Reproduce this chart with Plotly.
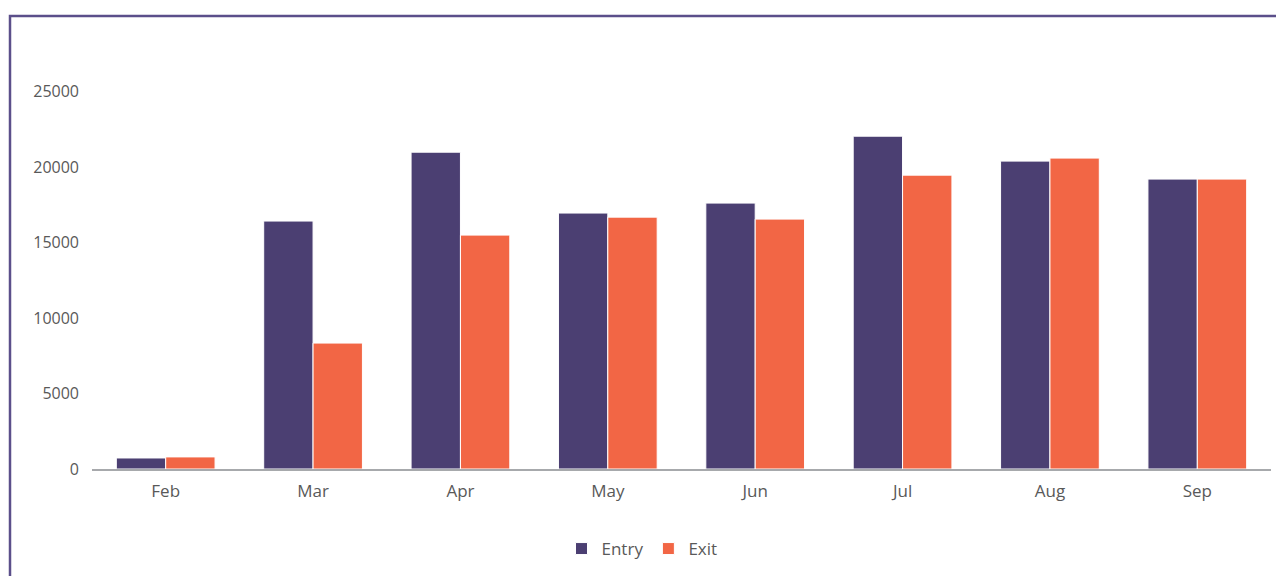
import plotly.graph_objects as go

months = ["Feb", "Mar", "Apr", "May", "Jun", "Jul", "Aug", "Sep"]
entry = [730, 16420, 20980, 16950, 17610, 22040, 20390, 19200]
exit_ = [800, 8340, 15490, 16680, 16550, 19460, 20590, 19200]
y_ticks = [0, 5000, 10000, 15000, 20000, 25000]

ENTRY_COLOR = "#4B3F72"
EXIT_COLOR = "#F26645"
TEXT_COLOR = "#595959"

fig = go.Figure()
fig.add_trace(go.Bar(name="Entry", x=months, y=entry,
                     marker=dict(color=ENTRY_COLOR, line=dict(color="white", width=1))))
fig.add_trace(go.Bar(name="Exit", x=months, y=exit_,
                     marker=dict(color=EXIT_COLOR, line=dict(color="white", width=1))))

# page body has an 8px margin; compensate
OFF = 8
W, H = 1284 - OFF, 576 - OFF
ml, mr, mt = 92 - OFF, 13, 54 - OFF
ph = 415
mb = H - mt - ph
pw = W - ml - mr
ytop = ph / 377.5 * 25000

fig.update_layout(
    width=W, height=H,
    margin=dict(l=ml, r=mr, t=mt, b=mb, autoexpand=False),
    paper_bgcolor="white", plot_bgcolor="white",
    barmode="group", bargap=0.33, bargroupgap=0.0,
    font=dict(family="Open Sans, sans-serif", size=16, color=TEXT_COLOR),
    showlegend=True,
    legend=dict(orientation="h", x=(642 - 92) / pw, xanchor="center",
                y=(469 - 549) / ph, yanchor="middle",
                font=dict(size=17, color=TEXT_COLOR), itemwidth=30),
    xaxis=dict(showline=True, linecolor="#A7A9AC", linewidth=2, showgrid=False,
               ticks="", ticklabelstandoff=6, tickfont=dict(size=17, color=TEXT_COLOR)),
    yaxis=dict(range=[0, ytop], tickvals=y_ticks, tickformat="d", showgrid=False, zeroline=False,
               showline=False, ticks="", ticklabelstandoff=12,
               tickfont=dict(size=16, color=TEXT_COLOR)),
    shapes=[dict(type="rect", xref="paper", yref="paper",
                 x0=(10 - 92) / pw, x1=1.2, y0=-0.6, y1=(469 - 16) / ph,
                 line=dict(color="#5B4F8A", width=2.5), fillcolor="rgba(0,0,0,0)", layer="below")],
)

fig.write_html("out.html")
